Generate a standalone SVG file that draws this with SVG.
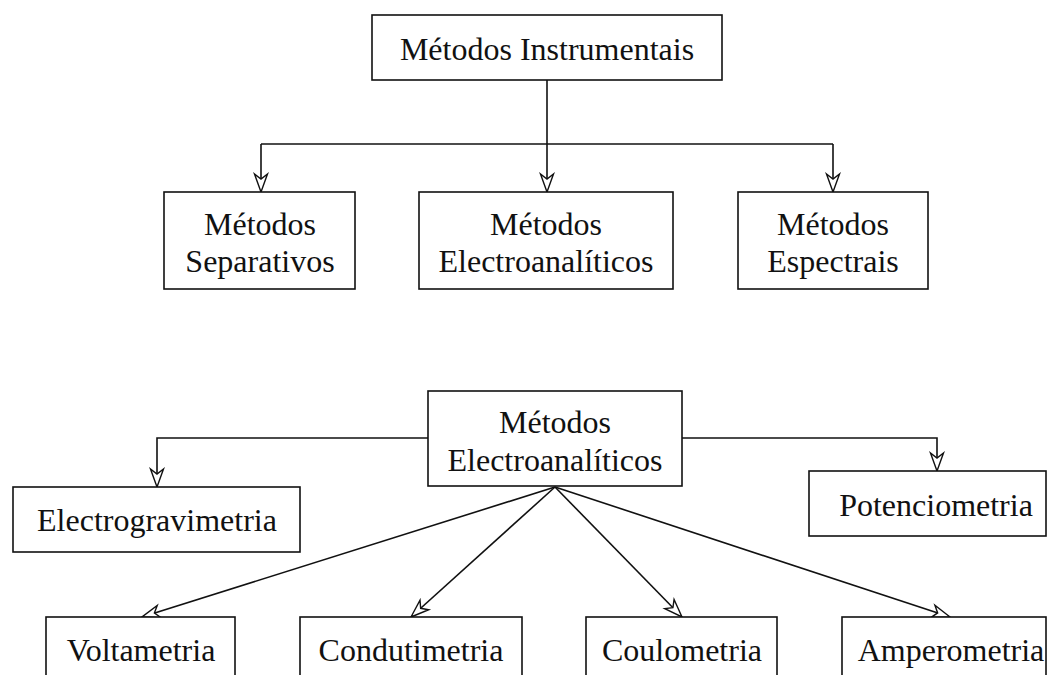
<svg xmlns="http://www.w3.org/2000/svg" width="1053" height="675" viewBox="0 0 1053 675">
<defs>
<style>
.box{fill:#fff;stroke:#111;stroke-width:1.6}
.lbl{font-family:"Liberation Serif","Times New Roman",serif;font-size:32px;fill:#111;text-anchor:middle}
.con{fill:none;stroke:#111;stroke-width:1.6}
</style>
<marker id="arr" markerUnits="userSpaceOnUse" markerWidth="22" markerHeight="18" viewBox="-20 -9 22 18" refX="0" refY="0" orient="auto">
<path d="M0,0 L-18,-6.5 L-13,0 L-18,6.5 Z" fill="#fff" stroke="#111" stroke-width="1.4" stroke-linejoin="miter"/>
</marker>
</defs>
<rect width="1053" height="675" fill="#fff"/>
<g id="connectors">
<path class="con" d="M547,80 V192" marker-end="url(#arr)"/>
<path class="con" d="M261,144 H833"/>
<path class="con" d="M261,144 V192" marker-end="url(#arr)"/>
<path class="con" d="M833,144 V192" marker-end="url(#arr)"/>
<path class="con" d="M428,438 H157 V487" marker-end="url(#arr)"/>
<path class="con" d="M682,438 H937 V471" marker-end="url(#arr)"/>
<path class="con" d="M555,487 L142,617" marker-end="url(#arr)"/>
<path class="con" d="M555,487 L411,617" marker-end="url(#arr)"/>
<path class="con" d="M555,487 L682,617" marker-end="url(#arr)"/>
<path class="con" d="M555,487 L950,617" marker-end="url(#arr)"/>
</g>
<g id="n-instrumentais">
<rect class="box" x="372" y="15" width="350" height="65"/>
<text class="lbl" x="547" y="60">Métodos Instrumentais</text>
</g>
<g id="n-separativos">
<rect class="box" x="164" y="192" width="191" height="97"/>
<text class="lbl" x="260" y="235">Métodos</text>
<text class="lbl" x="260" y="272">Separativos</text>
</g>
<g id="n-electroanaliticos1">
<rect class="box" x="419" y="192" width="254" height="97"/>
<text class="lbl" x="546" y="235">Métodos</text>
<text class="lbl" x="546" y="272">Electroanalíticos</text>
</g>
<g id="n-espectrais">
<rect class="box" x="738" y="192" width="190" height="97"/>
<text class="lbl" x="833" y="235">Métodos</text>
<text class="lbl" x="833" y="272">Espectrais</text>
</g>
<g id="n-electroanaliticos2">
<rect class="box" x="428" y="391" width="254" height="95"/>
<text class="lbl" x="555" y="433">Métodos</text>
<text class="lbl" x="555" y="471">Electroanalíticos</text>
</g>
<g id="n-electrogravimetria">
<rect class="box" x="13" y="487" width="287" height="65"/>
<text class="lbl" x="157" y="531">Electrogravimetria</text>
</g>
<g id="n-potenciometria">
<rect class="box" x="809" y="471" width="237" height="65"/>
<text class="lbl" x="936" y="516">Potenciometria</text>
</g>
<g id="n-voltametria">
<rect class="box" x="46" y="617" width="189" height="80"/>
<text class="lbl" x="141" y="661">Voltametria</text>
</g>
<g id="n-condutimetria">
<rect class="box" x="300" y="617" width="222" height="80"/>
<text class="lbl" x="411" y="661">Condutimetria</text>
</g>
<g id="n-coulometria">
<rect class="box" x="586" y="617" width="191" height="80"/>
<text class="lbl" x="682" y="661">Coulometria</text>
</g>
<g id="n-amperometria">
<rect class="box" x="842" y="617" width="204" height="80"/>
<text class="lbl" x="951" y="661">Amperometria</text>
</g>
</svg>
